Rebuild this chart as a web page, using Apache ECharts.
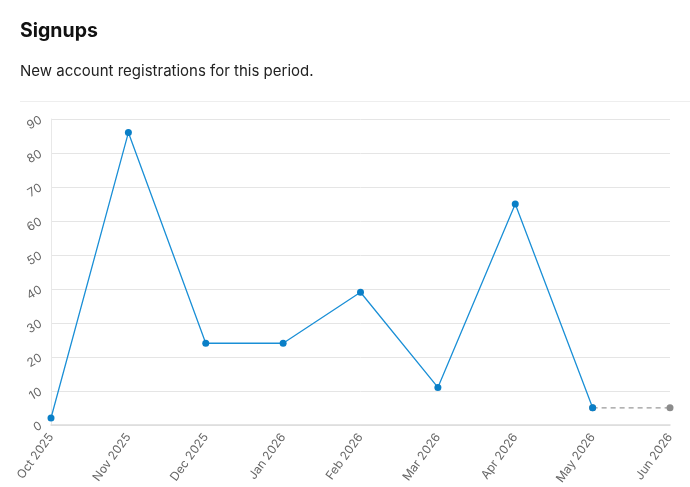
<!DOCTYPE html>
<html><head><meta charset="utf-8">
<script src="https://cdn.jsdelivr.net/npm/echarts@6/dist/echarts.min.js"></script>
<style>html,body{margin:0;padding:0;background:#fff}#c{width:690px;height:487px}</style>
</head><body><div id="c"></div>
<script>
const categories = ['Oct 2025','Nov 2025','Dec 2025','Jan 2026','Feb 2026','Mar 2026','Apr 2026','May 2026','Jun 2026'];
const signups = [2, 86, 24, 24, 39, 11, 65, 5, null];
const projection = [null, null, null, null, null, null, null, 5, 5];
const yTicks = {min: 0, max: 90, interval: 10};
const titleText = 'Signups';
const subtitleText = 'New account registrations for this period.';

const chart = echarts.init(document.getElementById('c'), null, {renderer: 'canvas'});
chart.setOption({
  animation: false,
  textStyle: {fontFamily: 'Inter'},
  title: {
    text: titleText, subtext: subtitleText, left: 15, top: 16, itemGap: 23,
    textStyle: {fontFamily: 'Inter', fontSize: 19.5, fontWeight: 'bold', color: '#111'},
    subtextStyle: {fontFamily: 'Inter', fontSize: 15, color: '#222'}
  },
  graphic: [{type: 'line', shape: {x1: 20, y1: 101.5, x2: 690, y2: 101.5}, style: {stroke: '#eeeeee', lineWidth: 1}}],
  grid: {left: 51, right: 20, top: 119, bottom: 62, containLabel: false},
  xAxis: {
    type: 'category', data: categories, boundaryGap: false,
    axisLine: {show: true, lineStyle: {color: '#dcdcdc', width: 1.5}},
    axisTick: {show: false},
    axisLabel: {rotate: 54, color: '#666', fontSize: 12, margin: 10, fontFamily: 'Inter', interval: 0}
  },
  yAxis: {
    type: 'value', min: yTicks.min, max: yTicks.max, interval: yTicks.interval,
    axisLine: {show: true, lineStyle: {color: '#e8e8e8'}},
    axisTick: {show: false},
    splitLine: {lineStyle: {color: '#e5e5e5'}},
    axisLabel: {rotate: 30, color: '#666', fontSize: 12, margin: 10, fontFamily: 'Inter'}
  },
  series: [
    {type: 'line', data: projection, symbol: 'circle', symbolSize: 7, z: 2,
     lineStyle: {color: '#999', width: 1.2, type: [5, 4]}, itemStyle: {color: '#8c8c8c'}},
    {type: 'line', data: signups, symbol: 'circle', symbolSize: 7, z: 3,
     lineStyle: {color: '#1a8fd6', width: 1.3}, itemStyle: {color: '#0a7fc7'}}
  ]
});
</script></body></html>
